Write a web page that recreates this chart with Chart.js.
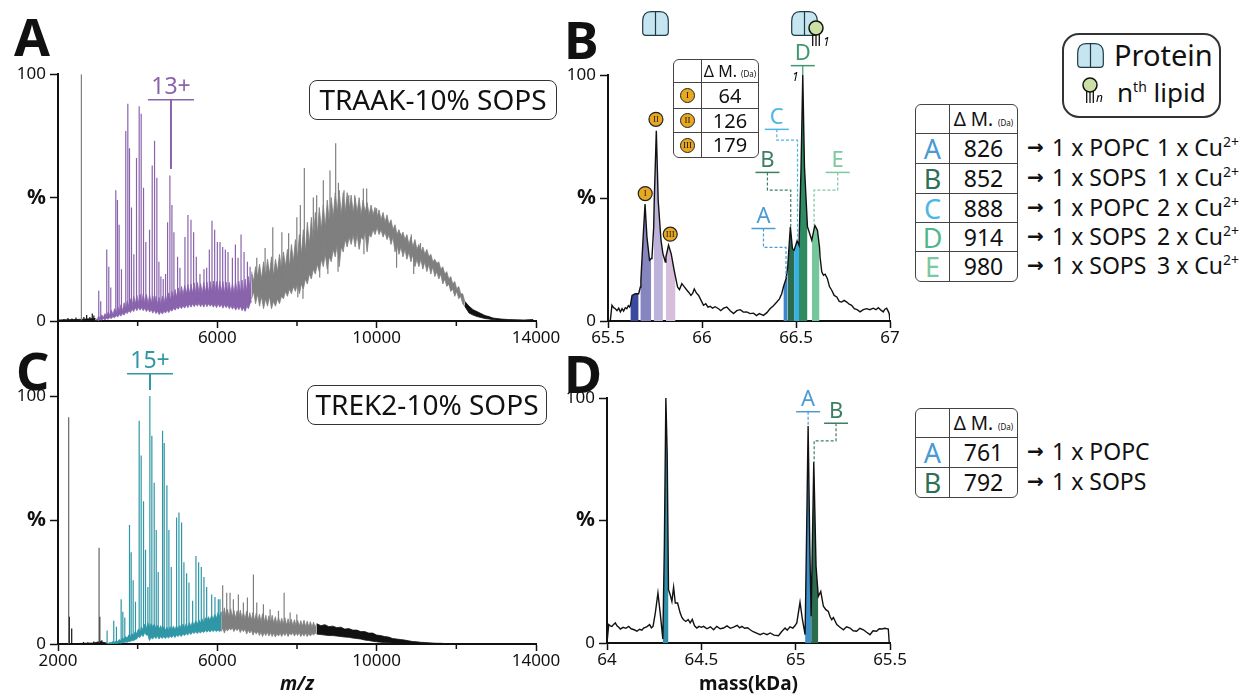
<!DOCTYPE html>
<html>
<head>
<meta charset="utf-8">
<title>TRAAK and TREK2 native MS</title>
<script src="https://cdn.jsdelivr.net/npm/chart.js@4/dist/chart.umd.min.js"></script>
<style>
    html, body { margin: 0; padding: 0; background: #fff; }
    body { position: relative; width: 1247px; height: 694px; overflow: hidden; font-family: "Noto Sans", sans-serif; color: #111; }
    canvas { position: absolute; }
    .letter { position: absolute; font-weight: 700; font-size: 52px; line-height: 52px; }
    .tag { position: absolute; box-sizing: border-box; border: 1.5px solid #333; border-radius: 8px; text-align: center; font-size: 28px; line-height: 37px; }
    .spine { position: absolute; left: 57px; top: 321px; width: 2px; height: 76px; background: #111; }
    table { position: absolute; border-collapse: separate; border-spacing: 0; border: 1.5px solid #444; border-radius: 6px; table-layout: fixed; }
    td { padding: 0; text-align: center; border-left: 1.5px solid #444; border-top: 1.5px solid #444; line-height: 1; }
    td:first-child { border-left: 0; }
    tr:first-child td { border-top: 0; }
    .big td { font-size: 23px; }
    .big td:first-child { font-size: 27px; }
    .big .head { font-size: 19px; white-space: nowrap; }
    .small td { font-size: 20px; }
    .small td:first-child { font-size: 9px; }
    .small .head { font-size: 16px; white-space: nowrap; }
    .badge { display: inline-block; box-sizing: border-box; width: 15px; height: 15px; border-radius: 50%; background: #e8a820; border: 1.2px solid #222; font-family: "Liberation Serif", serif; line-height: 13px; vertical-align: middle; }
    small { font-size: 8px; }
    .row { position: absolute; font-size: 23px; line-height: 30px; white-space: nowrap; }
    .row span { position: absolute; top: 0; }
    .row b { position: absolute; left: 0; top: 0; font-family: "DejaVu Sans", sans-serif; font-size: 20px; }
    sup { font-size: 14px; line-height: 0; }
    .legend { position: absolute; left: 1062px; top: 33px; width: 159px; height: 85px; box-sizing: border-box; border: 2px solid #333; border-radius: 17px; }
    .legend div { position: absolute; line-height: 30px; white-space: nowrap; }
    svg { position: absolute; left: 0; top: 0; }
</style>
</head>
<body>
<canvas id="panelA"></canvas>
<canvas id="panelB"></canvas>
<canvas id="panelC"></canvas>
<canvas id="panelD"></canvas>
<div class="spine"></div>

<div class="letter" style="left:14px;top:10px">A</div>
<div class="letter" style="left:564px;top:13px">B</div>
<div class="letter" style="left:16px;top:344px">C</div>
<div class="letter" style="left:564px;top:347px">D</div>

<div class="tag" style="left:309px;top:80px;width:248px;height:40px">TRAAK-10% SOPS</div>
<div class="tag" style="left:307px;top:385px;width:240px;height:40px">TREK2-10% SOPS</div>

<table class="small" style="left:673px;top:59px;width:86px">
    <colgroup><col style="width:27px"><col></colgroup>
    <tr style="height:22px"><td></td><td class="head">Δ M. <small>(Da)</small></td></tr>
    <tr style="height:26px"><td><span class="badge">I</span></td><td>64</td></tr>
    <tr style="height:24px"><td><span class="badge">II</span></td><td>126</td></tr>
    <tr style="height:25px"><td><span class="badge">III</span></td><td>179</td></tr>
</table>

<table class="big" style="left:915px;top:104px;width:103px">
    <colgroup><col style="width:33px"><col></colgroup>
    <tr style="height:28px"><td></td><td class="head">Δ M. <small>(Da)</small></td></tr>
    <tr style="height:30px"><td style="color:#4a9bd4">A</td><td>826</td></tr>
    <tr style="height:30px"><td style="color:#2f6f55">B</td><td>852</td></tr>
    <tr style="height:29px"><td style="color:#4db6e6">C</td><td>888</td></tr>
    <tr style="height:29px"><td style="color:#4fb88a">D</td><td>914</td></tr>
    <tr style="height:30px"><td style="color:#7cc8a0">E</td><td>980</td></tr>
</table>
<div class="row" style="left:1027px;top:132px"><b>→</b><span style="left:25px">1 x POPC</span><span style="left:130px">1 x Cu<sup>2+</sup></span></div>
<div class="row" style="left:1027px;top:162px"><b>→</b><span style="left:25px">1 x SOPS</span><span style="left:130px">1 x Cu<sup>2+</sup></span></div>
<div class="row" style="left:1027px;top:192px"><b>→</b><span style="left:25px">1 x POPC</span><span style="left:130px">2 x Cu<sup>2+</sup></span></div>
<div class="row" style="left:1027px;top:221px"><b>→</b><span style="left:25px">1 x SOPS</span><span style="left:130px">2 x Cu<sup>2+</sup></span></div>
<div class="row" style="left:1027px;top:250px"><b>→</b><span style="left:25px">1 x SOPS</span><span style="left:130px">3 x Cu<sup>2+</sup></span></div>

<table class="big" style="left:915px;top:408px;width:103px">
    <colgroup><col style="width:33px"><col></colgroup>
    <tr style="height:28px"><td></td><td class="head">Δ M. <small>(Da)</small></td></tr>
    <tr style="height:30px"><td style="color:#4a9bd4">A</td><td>761</td></tr>
    <tr style="height:30px"><td style="color:#2f6f55">B</td><td>792</td></tr>
</table>
<div class="row" style="left:1027px;top:436px"><b>→</b><span style="left:25px">1 x POPC</span></div>
<div class="row" style="left:1027px;top:466px"><b>→</b><span style="left:25px">1 x SOPS</span></div>

<div class="legend">
    <div style="left:50px;top:5px;font-size:29px">Protein</div>
    <div style="left:53px;top:42px;font-size:26px">n<sup>th</sup> lipid</div>
</div>

<svg width="1247" height="694">
    <defs>
        <g id="protein">
            <path d="M13.5 0.7 H9 Q0.7 0.7 0.7 10 V21 Q0.7 24.3 4 24.3 H23 Q26.3 24.3 26.3 21 V10 Q26.3 0.7 18 0.7 Z M13.5 0.7 V24.3" fill="#c5e6f0" stroke="#1f3a44" stroke-width="1.2"/>
        </g>
        <g id="lipid">
            <path d="M-3.3 6 V18 M0 6 V18 M3.3 6 V18" fill="none" stroke="#111" stroke-width="1.3"/>
            <circle r="7" fill="#cbe0a5" stroke="#111" stroke-width="1.5"/>
        </g>
    </defs>
    <use href="#protein" x="642" y="11"/>
    <use href="#protein" x="791" y="11"/>
    <use href="#lipid" x="816" y="28"/>
    <text x="823" y="46" font-size="12" font-style="italic" font-family="Noto Sans">1</text>
    <text x="792" y="81" font-size="12" font-style="italic" font-family="Noto Sans">1</text>
    <use href="#protein" x="1077" y="43"/>
    <use href="#lipid" x="1090" y="85"/>
    <text x="1096" y="102" font-size="12" font-style="italic" font-family="Noto Sans">n</text>
</svg>

<script>
// tick labels
const yLabels = ['0', '%', '100'];
const yLabelValues = [0, 50, 100];
const xLabelsTop = [6000, 10000, 14000];
const xLabelsBottom = [2000, 6000, 10000, 14000];
const xMinorMz = [4000, 8000, 12000];
const xLabelsB = [65.5, 66, 66.5, 67];
const xLabelsD = [64, 64.5, 65, 65.5];

// panel A, m/z spectrum
const aHeadMz = [2000, 2200, 2400, 2600, 2800, 2940];
const aHeadTop = [0.4, 0.5, 0.6, 0.7, 0.9, 1];
const aHeadLow = [0, 0, 0, 0, 0, 0];
const aHeadPeakMz = [2150, 2250, 2350, 2450, 2650, 2720, 2800, 2860, 2900];
const aHeadPeakTop = [0.8, 1.2, 1, 1.4, 1.6, 2.4, 1.6, 3, 2.2];

const aSpikeMz = [2587];
const aSpikeTop = [100];

const aPurpleBandMz = [2940, 2980, 3020, 3060, 3100, 3140, 3180, 3220, 3260, 3300,
    3340, 3380, 3420, 3460, 3500, 3540, 3580, 3620, 3660, 3700,
    3740, 3780, 3820, 3860, 3900, 3940, 3980, 4020, 4060, 4100,
    4140, 4180, 4220, 4260, 4300, 4340, 4380, 4420, 4460, 4500,
    4540, 4580, 4620, 4660, 4700, 4740, 4780, 4820, 4860, 4900,
    4940, 4980, 5020, 5060, 5100, 5140, 5180, 5220, 5260, 5300,
    5340, 5380, 5420, 5460, 5500, 5540, 5580, 5620, 5660, 5700,
    5740, 5780, 5820, 5860, 5900, 5940, 5980, 6020, 6060, 6100,
    6140, 6180, 6220, 6260, 6300, 6340, 6380, 6420, 6460, 6500,
    6540, 6580, 6620, 6660, 6700, 6740, 6780, 6820, 6860];
const aPurpleBandTop = [1, 0.5, 2, 1, 2.5, 1.4, 3, 1.8, 3.6, 2.2,
    4.4, 2.6, 5, 3.2, 5.8, 3.6, 6.6, 4.2, 7.4, 5,
    8.2, 5.6, 9, 6.2, 10, 6.8, 10.4, 7, 10.8, 7.4,
    11, 7.2, 10.8, 7, 10.6, 7.2, 10.2, 6.8, 10, 6.6,
    9.6, 6.4, 10, 7, 10.6, 7.6, 11.4, 8.4, 12, 9,
    12.8, 9.6, 13.4, 10, 14, 10.6, 14.4, 10.8, 14.8, 11,
    15, 11.2, 15.4, 11, 15.6, 11.4, 15.2, 11.2, 15.6, 11.6,
    15.8, 11.4, 16, 11.6, 16.2, 11.8, 16, 11.4, 16.2, 11.6,
    16, 11.2, 15.8, 11.4, 15.6, 11, 15.4, 11.2, 16, 11,
    16.2, 11.2, 16.6, 11, 17, 11.6, 18, 12.6, 19];
const aPurpleBandLow = [0.3, 0.5, 0.2, 0.6, 0.4, 0.9, 0.5, 1.1, 0.7, 1.4,
    1, 1.8, 1.3, 2.2, 1.6, 2.6, 2, 3, 2.4, 3.6,
    3, 4.2, 3.4, 4.8, 3.8, 5.4, 4.2, 5.6, 4.4, 5.4,
    4.2, 5.2, 3.8, 5, 3.6, 4.6, 3.2, 4.4, 3, 4,
    2.6, 3.8, 2.8, 4, 3.2, 4.4, 3.4, 4.6, 4, 5.2,
    4.4, 5.6, 4.8, 6, 5, 6.2, 5.2, 6.6, 5.4, 6.8,
    5.6, 7, 5.8, 7, 6, 7.2, 5.8, 7, 5.6, 7.2,
    5.8, 7, 6, 6.8, 5.6, 6.8, 5.4, 7, 5.6, 6.8,
    5.2, 6.6, 5.4, 6.4, 5, 6.2, 4.8, 6, 4.4, 5.8,
    4.6, 6, 4.2, 5.4, 4, 6, 5, 7, 8];
const aPurplePeakMz = [3023, 3073, 3224, 3275, 3325, 3451, 3493, 3535, 3593, 3702,
    3753, 3795, 3845, 3904, 3971, 4038, 4088, 4147, 4205, 4298,
    4365, 4424, 4482, 4533, 4583, 4642, 4700, 4751, 4809, 4860,
    4910, 5002, 5061, 5187, 5262, 5338, 5405, 5472, 5564, 5665,
    5732, 5799, 5866, 5933, 6000, 6067, 6134, 6201, 6268, 6378,
    6453, 6520, 6595, 6671, 6696, 6755, 6822];
const aPurplePeakTop = [12.3, 8, 29, 22, 13.6, 53, 49, 39, 21, 77,
    88, 70, 46, 27, 66, 87, 84, 54, 32, 37,
    63, 73, 58, 24, 18, 17, 19, 40, 59, 47,
    36, 26, 21.6, 34, 43, 41, 36, 26, 19, 21,
    21.6, 29, 40.6, 37, 32, 32, 30, 29, 28, 25.6,
    31, 25.6, 35, 28, 4, 24, 22];

const aGreyBandMz = [6860, 6910, 6960, 7010, 7060, 7110, 7160, 7210, 7260, 7310,
    7360, 7410, 7460, 7510, 7560, 7610, 7660, 7710, 7760, 7810,
    7860, 7910, 7960, 8010, 8060, 8110, 8160, 8210, 8260, 8310,
    8360, 8410, 8460, 8510, 8560, 8610, 8660, 8710, 8760, 8810,
    8860, 8910, 8960, 9010, 9060, 9110, 9160, 9210, 9260, 9310,
    9360, 9410, 9460, 9510, 9560, 9610, 9660, 9710, 9760, 9810,
    9860, 9910, 9960, 10010, 10060, 10110, 10160, 10210, 10260, 10310,
    10360, 10410, 10460, 10510, 10560, 10610, 10660, 10710, 10760, 10810,
    10860, 10910, 10960, 11010, 11060, 11110, 11160, 11210, 11260, 11310,
    11360, 11410, 11460, 11510, 11560, 11610, 11660, 11710, 11760, 11810,
    11860, 11910, 11960, 12010, 12060, 12110, 12160, 12210];
const aGreyBandTop = [20, 16, 22, 18, 23, 17, 24, 18, 25, 19,
    26, 18, 25, 20, 27, 21, 28, 22, 29, 22,
    31, 24, 33, 25, 35, 27, 37, 28, 40, 31,
    42, 32, 44, 35, 46, 37, 47, 38, 49, 40,
    50, 42, 52, 44, 53, 43, 52, 44, 52, 45,
    51, 44, 50, 44, 50, 43, 49, 44, 48, 43,
    47, 43, 46, 42, 45, 41, 44, 40, 43, 39,
    41, 37, 39, 35, 37, 34, 36, 33, 35, 31,
    34, 30, 33, 29, 31, 28, 30, 27, 29, 26,
    27, 24, 25, 23, 24, 21, 22, 19, 20, 17,
    18, 15, 16, 13, 14, 11, 11, 8];
const aGreyBandLow = [9, 12, 7, 11, 6, 10, 5, 9, 6, 10,
    5, 8, 6, 9, 7, 10, 9, 12, 10, 13,
    11, 14, 12, 15, 11, 15, 13, 17, 15, 19,
    17, 21, 19, 23, 20, 25, 22, 27, 21, 26,
    24, 29, 26, 31, 22, 30, 28, 33, 30, 34,
    31, 35, 30, 35, 29, 34, 33, 36, 28, 35,
    34, 37, 35, 38, 35, 37, 34, 36, 33, 35,
    31, 34, 28, 31, 27, 30, 26, 29, 25, 28,
    24, 27, 22, 25, 22, 25, 21, 24, 20, 23,
    19, 22, 18, 20, 17, 19, 15, 17, 14, 15,
    12, 13, 10, 12, 9, 10, 7, 6];
const aGreyPeakMz = [6990, 7199, 7392, 7620, 7790, 7996, 8020, 8084, 8150, 8184,
    8410, 8494, 8570, 8661, 8775, 8828, 8971, 9030, 9040, 9180,
    9300, 9450, 9665, 9680, 9749, 10000, 10150, 10350, 10500, 10600,
    10870, 10930, 11100, 11510];
const aGreyPeakTop = [25.6, 29.6, 38, 36, 35.6, 42, 9.6, 47, 9, 62,
    50, 51, 17.6, 57, 19, 61, 72, 20, 56, 53,
    51, 51, 53.7, 27, 53.7, 45.7, 43, 40, 21.6, 35.6,
    35, 19, 31.6, 24];

const aTailMz = [12210, 12320, 12420, 12520, 12620, 12720, 12820, 12920, 13020, 13120, 13300, 13500, 13700, 13930];
const aTailTop = [8, 6, 4.6, 3.8, 3, 2.2, 1.8, 1.2, 1, 0.8, 0.6, 0.5, 0.4, 0.6];
const aTailLow = [6, 3.2, 2.4, 1.8, 1.4, 1, 0.8, 0.5, 0.4, 0.3, 0.2, 0.2, 0.1, 0.1];

// panel C, m/z spectrum
const cHeadMz = [2340, 2500, 2700, 2900, 3050, 3216];
const cHeadTop = [0.2, 0.2, 0.3, 0.4, 1, 0.4];
const cHeadLow = [0, 0, 0, 0, 0, 0];
const cHeadPeakMz = [2285, 2344, 2640, 2750, 2900, 3048, 3100];
const cHeadPeakTop = [11, 6.3, 0.8, 0.7, 1, 11, 1.5];

const cSpikeMz = [2268, 3031];
const cSpikeTop = [91.4, 38.8];

const cTealBandMz = [3216, 3256, 3296, 3336, 3376, 3416, 3456, 3496, 3536, 3576,
    3616, 3656, 3696, 3736, 3776, 3816, 3856, 3896, 3936, 3976,
    4016, 4056, 4096, 4136, 4176, 4216, 4256, 4296, 4336, 4376,
    4416, 4456, 4496, 4536, 4576, 4616, 4656, 4696, 4736, 4776,
    4816, 4856, 4896, 4936, 4976, 5016, 5056, 5096, 5136, 5176,
    5216, 5256, 5296, 5336, 5376, 5416, 5456, 5496, 5536, 5576,
    5616, 5656, 5696, 5736, 5776, 5816, 5856, 5896, 5936, 5976,
    6016, 6056, 6096];
const cTealBandTop = [0.4, 0.2, 0.6, 0.5, 1, 0.7, 1.2, 1, 1.8, 1.4,
    2.4, 2, 3, 2.4, 3.6, 3, 4.2, 3.4, 5, 4.2,
    6, 4.8, 7, 5.6, 8, 6.2, 8.6, 6.8, 8.2, 7,
    8, 6.4, 7.6, 6, 7.4, 5.8, 7, 5.6, 6.8, 5.4,
    7, 5.6, 7.2, 5.8, 7.4, 6, 7.6, 6.2, 8, 6.6,
    8.2, 6.8, 8.6, 7.2, 9, 7.6, 9.4, 8, 9.8, 8.4,
    10.2, 8.6, 10.6, 9.2, 11, 9.6, 11.6, 10, 12, 10.4,
    12.6, 11, 13];
const cTealBandLow = [0, 0, 0.1, 0, 0.2, 0.1, 0.3, 0.2, 0.4, 0.3,
    0.6, 0.5, 0.8, 0.7, 1, 1, 1.4, 1.3, 1.8, 2,
    3, 2.6, 3.8, 3, 4.6, 3.6, 3.6, 1.4, 2.6, 2,
    3, 2.2, 3.2, 2, 3, 2.2, 3, 2.2, 3, 2.4,
    3.2, 2.6, 3.4, 2.6, 3.6, 3, 3.8, 3, 4, 3.4,
    4.2, 3.6, 4.6, 3.8, 4.8, 4.2, 5, 4.2, 5, 4.4,
    5.2, 4.6, 5.4, 4.8, 5.4, 4.8, 5.6, 5, 5.6, 5,
    5.6, 5, 5.6];
const cTealPeakMz = [3233, 3400, 3467, 3585, 3627, 3677, 3795, 3837, 3887, 3945,
    4038, 4088, 4147, 4197, 4256, 4306, 4356, 4415, 4466, 4516,
    4625, 4667, 4734, 4784, 4843, 4977, 5036, 5103, 5161, 5229,
    5288, 5380, 5463, 5530, 5597, 5664, 5732, 5858, 5941, 6025, 6067];
const cTealPeakTop = [5.4, 9.4, 7, 18, 13, 10.7, 48, 37, 25.7, 17,
    90, 76, 57.6, 38, 23, 100, 84, 65, 46, 29,
    86, 81, 64, 46, 31, 51, 53, 49, 33, 28.5,
    24.8, 17.4, 35.5, 33, 31, 27, 23, 20, 19, 18, 18];

const cGreyBandMz = [6096, 6136, 6176, 6216, 6256, 6296, 6336, 6376, 6416, 6456,
    6496, 6536, 6576, 6616, 6656, 6696, 6736, 6776, 6816, 6856,
    6896, 6936, 6976, 7016, 7056, 7096, 7136, 7176, 7216, 7256,
    7296, 7336, 7376, 7416, 7456, 7496, 7536, 7576, 7616, 7656,
    7696, 7736, 7776, 7816, 7856, 7896, 7936, 7976, 8016, 8056,
    8096, 8136, 8176, 8216, 8256, 8296, 8336, 8376, 8416, 8456,
    8496];
const cGreyBandTop = [13, 10.6, 14.6, 11, 14, 10.6, 14.2, 10.8, 13.6, 10.4,
    13.4, 10.2, 13.6, 10.4, 12.8, 10, 13.2, 9.8, 12.6, 9.6,
    12.8, 9.4, 12.4, 9.2, 12, 9, 12.2, 8.8, 11.6, 8.6,
    11.4, 8.4, 11.6, 8.2, 11, 8, 10.8, 8, 10.4, 7.8,
    10.6, 7.6, 10.2, 7.6, 10, 7.4, 9.8, 7.4, 9.6, 7.2,
    9.4, 7.2, 9.6, 7, 9.2, 7, 9, 6.8, 8.8, 6.8,
    8.2];
const cGreyBandLow = [5, 6.4, 4.4, 6.2, 5.2, 6.4, 5.6, 6.6, 5, 6.2,
    5.4, 6.4, 4.6, 6, 5, 6, 4, 5.6, 4.4, 5.6,
    3.6, 5.2, 4, 5.2, 3.4, 4.8, 3, 4.6, 3.4, 4.8,
    3.2, 4.6, 3, 4.4, 2.8, 4.2, 3.2, 4.4, 3, 4.4,
    3.4, 4.6, 3, 4.4, 3.6, 4.6, 3.2, 4.4, 3.4, 4.6,
    3, 4.2, 3.2, 4.4, 3, 4.2, 3.2, 4.2, 3.6, 4.4,
    4];
const cGreyPeakMz = [6134, 6235, 6319, 6403, 6528, 6654, 6755, 6906, 6990, 7157,
    7325, 7535, 7677, 7828, 7996];
const cGreyPeakTop = [23.7, 20.7, 20.7, 18, 20, 16.7, 18.7, 28, 16.7, 16,
    14, 13.4, 20.7, 12.7, 12];

const cTailMz = [8496, 8600, 8700, 8800, 8900, 9000, 9100, 9200, 9300, 9400,
    9500, 9600, 9700, 9800, 9900, 10000, 10100, 10200, 10300, 10400,
    10500, 10600, 10700, 10800, 10900, 11000, 11100, 11200, 11300, 11400,
    11500, 11600, 11700, 11800, 11900, 12000, 12100, 12200, 12300, 12400, 12500];
const cTailTop = [8.2, 7.4, 7.8, 7, 7.2, 6.6, 6.8, 6, 6.2, 5.6,
    5.6, 5, 5, 4.4, 4.4, 3.6, 3.4, 3, 2.8, 2.2,
    2, 1.8, 1.6, 1.3, 1, 0.9, 0.7, 0.6, 0.5, 0.4,
    0.3, 0.3, 0.2, 0.2, 0.1, 0.1, 0.1, 0.1, 0.05, 0.05, 0];
const cTailLow = [4, 3.8, 3.6, 3.4, 3.4, 3.2, 3, 2.8, 2.7, 2.4,
    2.2, 2, 1.6, 1.4, 1.1, 0.9, 0.7, 0.6, 0.5, 0.4,
    0.3, 0.2, 0.2, 0.1, 0.1, 0.1, 0.1, 0, 0, 0,
    0, 0, 0, 0, 0, 0, 0, 0, 0, 0, 0];

// panel B, deconvoluted mass
const bMass = [65.512, 65.521, 65.530, 65.539, 65.548, 65.557, 65.566, 65.575, 65.583, 65.592,
    65.600, 65.608, 65.615, 65.619, 65.628, 65.645, 65.663, 65.672, 65.675, 65.686,
    65.697, 65.707, 65.721, 65.730, 65.734, 65.743, 65.746, 65.757, 65.767, 65.782,
    65.792, 65.805, 65.808, 65.822, 65.836, 65.852, 65.859, 65.870, 65.880, 65.893,
    65.905, 65.920, 65.930, 65.941, 65.950, 65.959, 65.970, 65.982, 65.995, 66.008,
    66.020, 66.032, 66.044, 66.056, 66.070, 66.088, 66.100, 66.115, 66.132, 66.150,
    66.168, 66.185, 66.203, 66.220, 66.238, 66.256, 66.274, 66.290, 66.305, 66.327,
    66.345, 66.362, 66.380, 66.398, 66.412, 66.424, 66.433, 66.447, 66.456, 66.470,
    66.481, 66.490, 66.506, 66.516, 66.527, 66.536, 66.545, 66.561, 66.584, 66.600,
    66.614, 66.625, 66.628, 66.637, 66.646, 66.655, 66.667, 66.678, 66.690, 66.703,
    66.717, 66.730, 66.743, 66.756, 66.770, 66.783, 66.796, 66.810, 66.825, 66.841,
    66.858, 66.876, 66.893, 66.911, 66.925, 66.938, 66.952, 66.964, 66.973, 66.982,
    66.990, 66.996, 67];
const bIntensity = [0, 6.4, 5.4, 5, 4.2, 5.2, 3.7, 5, 4, 5.4,
    5, 6.2, 5.7, 6.4, 10.4, 11.1, 11.1, 13.8, 16.6, 32.8,
    47.5, 34.2, 24.7, 25.4, 26, 38, 49, 77.3, 49, 32.8,
    27.4, 24, 26, 30.8, 27.4, 20.6, 17.9, 13.8, 12.8, 15.2,
    14, 12.5, 11.6, 10.4, 11.2, 13, 11.4, 10.4, 8.4, 6.4,
    7, 5.6, 6, 5.2, 5.8, 5, 4.2, 5.2, 5.7, 4.2,
    3, 4.2, 4.6, 3.6, 3.7, 3, 3.2, 2.2, 3, 2.3,
    3.4, 5, 6.2, 7.7, 9, 11.1, 13.8, 17.2, 22, 38.3,
    29.4, 28.8, 32.6, 30.8, 62.7, 100, 62.7, 38.3, 32.8, 38.9,
    36.9, 30.1, 26, 20, 18.6, 19, 17.2, 14, 12.5, 10.4,
    9.8, 8, 7.7, 8.4, 7.7, 6.8, 6.4, 5, 4.6, 3.7,
    4.6, 5, 4.6, 5.2, 4.6, 5.4, 4.4, 3.7, 4.8, 5.2,
    4, 3, 0];
const bFillFrom = [65.619, 65.672, 65.743, 65.808, 66.433, 66.456, 66.490, 66.516, 66.584];
const bFillTo = [65.663, 65.730, 65.792, 65.859, 66.456, 66.490, 66.516, 66.561, 66.625];
const bFillColors = ['#3b4a9f', '#8585c0', '#bdb3da', '#d6bedc', '#3c86c6', '#2b6b4e', '#3ab0e0', '#2f8b62', '#75c79b'];

// panel D, deconvoluted mass
const dMass = [64, 64.009, 64.018, 64.026, 64.035, 64.044, 64.053, 64.062, 64.071, 64.085,
    64.1, 64.115, 64.128, 64.144, 64.159, 64.172, 64.185, 64.194, 64.21, 64.226,
    64.235, 64.244, 64.256, 64.27, 64.282, 64.296, 64.304, 64.312, 64.319, 64.326,
    64.335, 64.344, 64.353, 64.362, 64.374, 64.388, 64.397, 64.406, 64.418, 64.43,
    64.441, 64.452, 64.464, 64.476, 64.488, 64.5, 64.512, 64.53, 64.548, 64.565,
    64.582, 64.6, 64.618, 64.636, 64.654, 64.671, 64.69, 64.703, 64.715, 64.73,
    64.745, 64.759, 64.775, 64.793, 64.812, 64.83, 64.848, 64.865, 64.885, 64.909,
    64.925, 64.944, 64.955, 64.97, 64.985, 64.996, 65.006, 65.023, 65.036, 65.05,
    65.057, 65.066, 65.075, 65.082, 65.096, 65.108, 65.12, 65.133, 65.147, 65.16,
    65.173, 65.182, 65.191, 65.2, 65.218, 65.235, 65.253, 65.27, 65.288, 65.305,
    65.323, 65.34, 65.359, 65.376, 65.394, 65.41, 65.429, 65.443, 65.456, 65.473,
    65.491, 65.496];
const dIntensity = [0, 7.5, 7, 6.8, 7.6, 8.2, 7, 6.4, 5.7, 6.4,
    6, 6.8, 5.8, 5.4, 4.8, 5.6, 5.2, 6.1, 6.6, 7.5,
    6.2, 6.8, 12.2, 20.4, 12.2, 1.6, 39.4, 100, 77.4, 21.7,
    19.7, 17, 22.8, 16.3, 16.3, 12.2, 10.4, 9.5, 8.8, 9.6,
    8.2, 9.6, 7, 6.1, 6.8, 6.4, 6.8, 5.8, 6.6, 5.4,
    6.8, 5.8, 6.1, 7, 6, 6.5, 7.2, 6.2, 6.8, 6,
    6.2, 5.4, 4.6, 4, 3.4, 4, 3.4, 4.1, 3.2, 3,
    4.6, 6.1, 5.2, 6.6, 6.1, 7, 8.2, 16.6, 9.5, 3.4,
    39.4, 88.6, 39.4, 10.9, 74, 31.3, 19, 21, 15, 13.6,
    12.9, 10.8, 9.5, 10.4, 7.5, 6.4, 5.4, 6.6, 6.1, 5,
    4.8, 6, 5.4, 4.4, 3.4, 5, 4.8, 5.8, 5.7, 6,
    5.7, 0];
const dFillFrom = [64.296, 65.05, 65.082];
const dFillTo = [64.326, 65.082, 65.12];
const dFillColors = ['#2e8fa6', '#3a8ec9', '#2b6b4e'];

const black = '#111111';
const grey = '#7f7f7f';
const purple = '#8a63ad';
const teal = '#2f97a6';

function points(xs, ys) {
    return xs.map((x, i) => ({ x: x, y: ys[i] }));
}

// thick ragged band between two outlines
function band(xs, top, low, color) {
    const common = { borderColor: color, borderWidth: 0.8, pointRadius: 0, tension: 0 };
    return [
        { ...common, data: points(xs, top), backgroundColor: color, fill: '+1' },
        { ...common, data: points(xs, low), fill: false }
    ];
}

// single peaks rising out of (or dipping below) a band
function peaks(xs, tops, bandXs, bandTop, bandLow, color) {
    const data = [];
    xs.forEach((x, i) => {
        let near = 0;
        bandXs.forEach((bx, j) => {
            if (Math.abs(bx - x) < Math.abs(bandXs[near] - x)) near = j;
        });
        const base = (bandTop[near] + bandLow[near]) / 2;
        data.push({ x: x, y: base }, { x: x, y: tops[i] }, { x: x, y: null });
    });
    return { data: data, borderColor: color, borderWidth: 1.2, pointRadius: 0, tension: 0, fill: false };
}

function filled(mass, intensity, from, to, color) {
    const data = points(mass, intensity).filter(p => p.x >= from && p.x <= to);
    return { data: data, borderWidth: 0, pointRadius: 0, tension: 0, backgroundColor: color, fill: 'origin' };
}

function trace(mass, intensity) {
    return { data: points(mass, intensity), borderColor: black, borderWidth: 1.4, pointRadius: 0, tension: 0, fill: false };
}

// brackets, dashed leaders, gold badges and the short x ticks, placed through the chart scales
function notesPlugin(notes, badges, minor) {
    return {
        id: 'peakNotes',
        afterDatasetsDraw(chart) {
            const ctx = chart.ctx;
            const xs = chart.scales.x;
            const ys = chart.scales.y;
            ctx.save();
            ctx.textAlign = 'center';
            ctx.textBaseline = 'middle';
            ctx.strokeStyle = black;
            ctx.lineWidth = 1.5;
            minor.forEach(v => {
                ctx.beginPath();
                ctx.moveTo(xs.getPixelForValue(v), chart.chartArea.bottom);
                ctx.lineTo(xs.getPixelForValue(v), chart.chartArea.bottom + 5);
                ctx.stroke();
            });
            notes.forEach(n => {
                const px = xs.getPixelForValue(n.x);
                const py = ys.getPixelForValue(n.y);
                ctx.strokeStyle = n.color;
                ctx.fillStyle = n.color;
                ctx.lineWidth = 1.5;
                ctx.setLineDash([]);
                ctx.beginPath();
                ctx.moveTo(px - n.half, py);
                ctx.lineTo(px + n.half, py);
                ctx.stroke();
                ctx.font = n.font + 'px "Noto Sans"';
                ctx.fillText(n.label, px, py - n.font * 0.5 - 1);
                ctx.setLineDash(n.dash);
                ctx.lineWidth = n.width;
                ctx.beginPath();
                ctx.moveTo(px, py);
                n.path.forEach(p => ctx.lineTo(xs.getPixelForValue(p[0]), ys.getPixelForValue(p[1])));
                ctx.stroke();
            });
            ctx.setLineDash([]);
            badges.forEach(b => {
                const px = xs.getPixelForValue(b.x);
                const py = ys.getPixelForValue(b.y);
                ctx.beginPath();
                ctx.arc(px, py, 7, 0, Math.PI * 2);
                ctx.fillStyle = '#e8a820';
                ctx.fill();
                ctx.lineWidth = 1.2;
                ctx.strokeStyle = '#222';
                ctx.stroke();
                ctx.fillStyle = '#222';
                ctx.font = '9px "Liberation Serif"';
                ctx.fillText(b.label, px, py + 0.5);
            });
            ctx.restore();
        }
    };
}

function drawPanel(id, box, area, xAxis, datasets, notes, badges) {
    const canvas = document.getElementById(id);
    canvas.width = box.width;
    canvas.height = box.height;
    canvas.style.left = box.left + 'px';
    canvas.style.top = box.top + 'px';
    new Chart(canvas.getContext('2d'), {
        type: 'line',
        data: { datasets: datasets },
        plugins: [notesPlugin(notes, badges, xAxis.minor || [])],
        options: {
            responsive: false,
            animation: false,
            layout: { padding: { left: 0, top: area.top, right: area.right, bottom: 0 } },
            plugins: { legend: { display: false }, tooltip: { enabled: false } },
            scales: {
                x: {
                    type: 'linear',
                    min: xAxis.min,
                    max: xAxis.max,
                    afterFit: s => { s.height = area.xHeight; },
                    border: { color: black, width: 2 },
                    grid: {
                        drawOnChartArea: false,
                        tickLength: 7,
                        tickWidth: 1.5,
                        tickColor: c => xAxis.labels.includes(c.tick.value) ? black : 'rgba(0,0,0,0)'
                    },
                    title: xAxis.title ? { display: true, text: xAxis.title, color: black, padding: { top: 0, bottom: -2 },
                        font: { family: 'Noto Sans', size: 19, weight: 'bold', style: xAxis.italic ? 'italic' : 'normal' } } : { display: false },
                    ticks: {
                        stepSize: xAxis.step,
                        autoSkip: false,
                        maxRotation: 0,
                        padding: 0,
                        color: black,
                        font: { family: 'Noto Sans', size: 17 },
                        callback: v => xAxis.labels.includes(v) ? String(v) : ''
                    }
                },
                y: {
                    min: 0,
                    max: 100,
                    afterFit: s => { s.width = area.yWidth; },
                    border: { color: black, width: 2 },
                    grid: { drawOnChartArea: false, tickLength: 8, tickColor: black, tickWidth: 1.5 },
                    ticks: {
                        stepSize: 50,
                        padding: 4,
                        color: black,
                        font: c => c.tick && c.tick.value === 50
                            ? { family: 'Noto Sans', size: 21, weight: 'bold' }
                            : { family: 'Noto Sans', size: 17 },
                        callback: v => yLabels[yLabelValues.indexOf(v)]
                    }
                }
            }
        }
    });
}

drawPanel('panelA',
    { left: 0, top: 60, width: 570, height: 291 },
    { top: 11, right: 34, xHeight: 30, yWidth: 58 },
    { min: 2000, max: 14000, step: 2000, labels: xLabelsTop, minor: xMinorMz },
    [
        peaks(aSpikeMz, aSpikeTop, aHeadMz, aHeadTop, aHeadLow, grey),
        peaks(aHeadPeakMz, aHeadPeakTop, aHeadMz, aHeadTop, aHeadLow, black),
        ...band(aHeadMz, aHeadTop, aHeadLow, black),
        peaks(aPurplePeakMz, aPurplePeakTop, aPurpleBandMz, aPurpleBandTop, aPurpleBandLow, purple),
        ...band(aPurpleBandMz, aPurpleBandTop, aPurpleBandLow, purple),
        peaks(aGreyPeakMz, aGreyPeakTop, aGreyBandMz, aGreyBandTop, aGreyBandLow, grey),
        ...band(aGreyBandMz, aGreyBandTop, aGreyBandLow, grey),
        ...band(aTailMz, aTailTop, aTailLow, black)
    ],
    [{ label: '13+', color: purple, x: 4836, y: 89.6, half: 23, font: 23, dash: [], width: 2, path: [[4836, 61.6]] }],
    []);

drawPanel('panelC',
    { left: 0, top: 345, width: 570, height: 349 },
    { top: 51, right: 34, xHeight: 50, yWidth: 58 },
    { min: 2000, max: 14000, step: 2000, labels: xLabelsBottom, minor: xMinorMz, title: 'm/z', italic: true },
    [
        peaks(cSpikeMz, cSpikeTop, cHeadMz, cHeadTop, cHeadLow, '#666666'),
        peaks(cHeadPeakMz, cHeadPeakTop, cHeadMz, cHeadTop, cHeadLow, black),
        ...band(cHeadMz, cHeadTop, cHeadLow, black),
        peaks(cTealPeakMz, cTealPeakTop, cTealBandMz, cTealBandTop, cTealBandLow, teal),
        ...band(cTealBandMz, cTealBandTop, cTealBandLow, teal),
        peaks(cGreyPeakMz, cGreyPeakTop, cGreyBandMz, cGreyBandTop, cGreyBandLow, grey),
        ...band(cGreyBandMz, cGreyBandTop, cGreyBandLow, grey),
        ...band(cTailMz, cTailTop, cTailLow, black)
    ],
    [{ label: '15+', color: teal, x: 4309, y: 109, half: 23, font: 23, dash: [], width: 2, path: [[4309, 102.4]] }],
    []);

drawPanel('panelB',
    { left: 560, top: 0, width: 350, height: 351 },
    { top: 75, right: 20, xHeight: 30, yWidth: 48 },
    { min: 65.5, max: 67, step: 0.5, labels: xLabelsB },
    [
        trace(bMass, bIntensity),
        ...bFillFrom.map((from, i) => filled(bMass, bIntensity, from, bFillTo[i], bFillColors[i]))
    ],
    [
        { label: 'A', color: '#4a9bd4', x: 66.327, y: 37.6, half: 12, font: 22, dash: [3, 2], width: 1.2, path: [[66.327, 29.9], [66.447, 29.9], [66.447, 17.9]] },
        { label: 'B', color: '#3d7f63', x: 66.348, y: 60.4, half: 12, font: 22, dash: [3, 2], width: 1.2, path: [[66.348, 53.2], [66.472, 53.2], [66.472, 38.3]] },
        { label: 'C', color: '#4db6e6', x: 66.398, y: 77.9, half: 12, font: 22, dash: [3, 2], width: 1.2, path: [[66.398, 73.5], [66.508, 73.5], [66.508, 32.8]] },
        { label: 'D', color: '#3f9970', x: 66.536, y: 103.8, half: 12, font: 22, dash: [], width: 1.2, path: [[66.536, 100]] },
        { label: 'E', color: '#7cc8a0', x: 66.722, y: 60.4, half: 12, font: 22, dash: [3, 2], width: 1.2, path: [[66.722, 53.2], [66.596, 53.2], [66.596, 38.9]] }
    ],
    [
        { label: 'I', x: 65.698, y: 51.8 },
        { label: 'II', x: 65.755, y: 82 },
        { label: 'III', x: 65.831, y: 35.3 }
    ]);

drawPanel('panelD',
    { left: 560, top: 345, width: 350, height: 349 },
    { top: 53, right: 20, xHeight: 51, yWidth: 47 },
    { min: 64, max: 65.5, step: 0.5, labels: xLabelsD, title: 'mass(kDa)' },
    [
        trace(dMass, dIntensity),
        ...dFillFrom.map((from, i) => filled(dMass, dIntensity, from, dFillTo[i], dFillColors[i]))
    ],
    [
        { label: 'A', color: '#4a9bd4', x: 65.066, y: 94.4, half: 12, font: 22, dash: [3, 2], width: 1.2, path: [[65.066, 88.9]] },
        { label: 'B', color: '#3d7f63', x: 65.214, y: 89.7, half: 12, font: 22, dash: [3, 2], width: 1.2, path: [[65.214, 82.5], [65.098, 82.5], [65.098, 74]] }
    ],
    []);
</script>
</body>
</html>
